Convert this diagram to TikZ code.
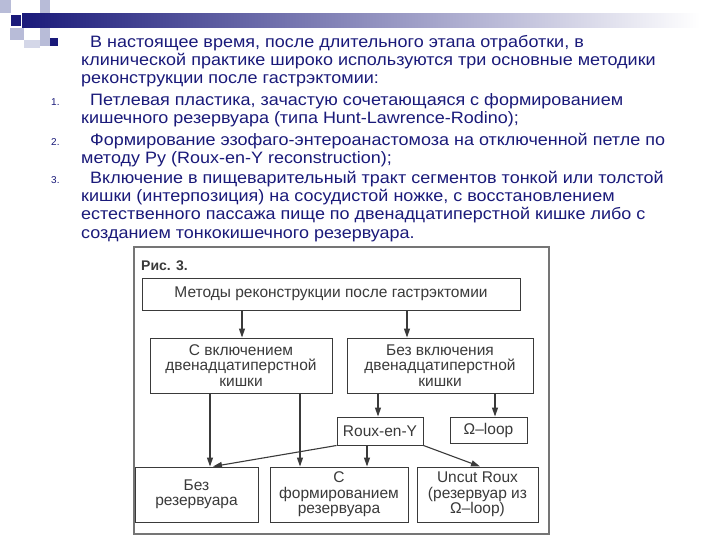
\documentclass[tikz,border=0pt]{standalone}
\usepackage{fontspec}
\setmainfont{Liberation Sans}
\newfontfamily\wide[FakeStretch=1.09]{Liberation Sans}
\usetikzlibrary{arrows.meta}
\definecolor{navy}{HTML}{1A1A7A}
\definecolor{lb}{HTML}{B8BCD8}
\definecolor{dg}{HTML}{3A3A3A}
\begin{document}
\begin{tikzpicture}[x=1pt,y=-1pt,
  tx/.style={anchor=base west,inner sep=0,text=navy,font=\wide\fontsize{16.5}{18}\selectfont},
  nm/.style={anchor=base west,inner sep=0,text=navy,font=\fontsize{10}{12}\selectfont},
  bx/.style={draw=dg,line width=1pt,text=dg,align=center,inner sep=0,font=\fontsize{15.5}{15.5}\selectfont},
  ar/.style={draw=dg,line width=1.1pt,-{Triangle[length=9pt,width=6pt]}}]
\useasboundingbox (0,0) rectangle (720,540);
\fill[white] (0,0) rectangle (720,540);
% decoration
\fill[lb] (0,0) rectangle (11,13);
\fill[lb] (40,0) rectangle (50,46);
\fill[lb] (10,28) rectangle (24,40);
\fill[lb!60] (24,40) rectangle (40,48);
\shade[left color=navy,right color=white] (22,14) rectangle (700,28);
\fill[navy] (11,15) rectangle (21,26);
% text
\fill[navy] (50,38) rectangle (58,46);
\node[tx] (l1) at (90,48) {В настоящее время, после длительного этапа отработки, в};
\node[tx] (l2) at (81,66) {клинической практике широко используются три основные методики};
\node[tx] (l3) at (81,84) {реконструкции после гастрэктомии:};
\node[nm] (n1) at (51,106) {1.};
\node[tx] (l4) at (90,106) {Петлевая пластика, зачастую сочетающаяся с формированием};
\node[tx] (l5) at (81,124) {кишечного резервуара (типа Hunt-Lawrence-Rodino);};
\node[nm] (n2) at (51,146) {2.};
\node[tx] (l6) at (90,146) {Формирование эзофаго-энтероанастомоза на отключенной петле по};
\node[tx] (l7) at (81,164) {методу Ру (Roux-en-Y reconstruction);};
\node[nm] (n3) at (51,184) {3.};
\node[tx] (l8) at (90,184) {Включение в пищеварительный тракт сегментов тонкой или толстой};
\node[tx] (l9) at (81,202) {кишки (интерпозиция) на сосудистой ножке, с восстановлением};
\node[tx] (l10) at (81,220) {естественного пассажа пище по двенадцатиперстной кишке либо с};
\node[tx] (l11) at (81,238) {созданием тонкокишечного резервуара.};
% diagram
\draw[draw=dg!70,line width=1.5pt] (134,247) rectangle (549,534);
\node[anchor=base west,inner sep=0,text=dg,font=\bfseries\fontsize{14}{16}\selectfont] (fig) at (141,270) {Рис. 3.};
\node[bx,minimum width=378pt,minimum height=32pt] (top) at (331,294) {Методы реконструкции после гастрэктомии};
\node[bx,minimum width=182pt,minimum height=55pt] (a) at (241,365.5) {С включением\\двенадцатиперстной\\кишки};
\node[bx,minimum width=186pt,minimum height=55pt] (b) at (440,365.5) {Без включения\\двенадцатиперстной\\кишки};
\node[bx,minimum width=86pt,minimum height=28pt] (r) at (380,431) {Roux-en-Y};
\node[bx,minimum width=77pt,minimum height=26pt] (o) at (488.5,430) {Ω–loop};
\node[bx,minimum width=123pt,minimum height=55pt] (c1) at (196.5,494.5) {Без\\резервуара};
\node[bx,minimum width=138pt,minimum height=55pt] (c2) at (339,494.5) {С\\формированием\\резервуара};
\node[bx,minimum width=121pt,minimum height=55pt] (c3) at (477.5,494.5) {Uncut Roux\\(резервуар из\\Ω–loop)};
\draw[ar] (top.south -| 242,0) -- (a.north -| 242,0);
\draw[ar] (top.south -| 407,0) -- (b.north -| 407,0);
\draw[ar] (a.south -| 210,0) -- (c1.north -| 210,0);
\draw[ar] (a.south -| 300,0) -- (c2.north -| 300,0);
\draw[ar] (b.south -| 378,0) -- (r.north -| 378,0);
\draw[ar] (b.south -| 495,0) -- (o.north -| 495,0);
\draw[ar] (r.south west) -- (c1.north -| 213,0);
\draw[ar] (r.south -| 367,0) -- (c2.north -| 367,0);
\draw[ar] (r.south east) -- (c3.north -| 480,0);
\end{tikzpicture}
\end{document}
